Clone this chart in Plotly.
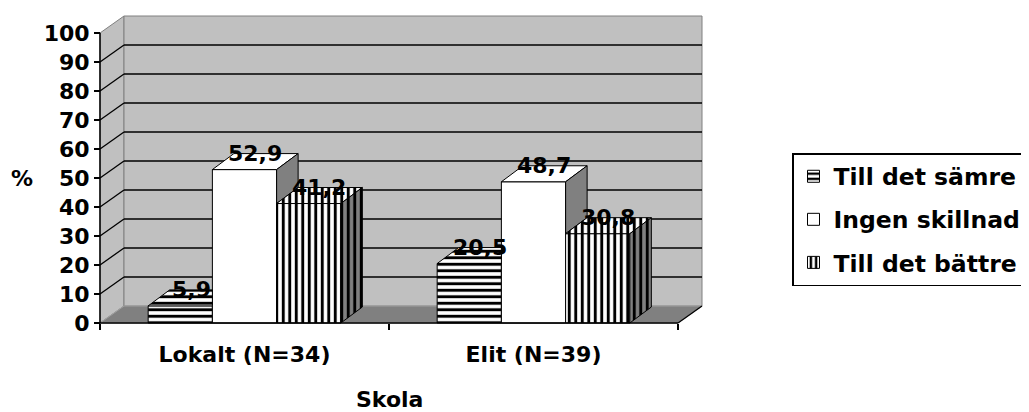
import plotly.graph_objects as go

# ---------------- data ----------------
categories = ["Lokalt (N=34)", "Elit (N=39)"]
series_names = ["Till det sämre", "Ingen skillnad", "Till det bättre"]
till_det_samre = [5.9, 20.5]
ingen_skillnad = [52.9, 48.7]
till_det_battre = [41.2, 30.8]
y_tick_values = [0, 10, 20, 30, 40, 50, 60, 70, 80, 90, 100]
x_title = "Skola"
y_title = "%"

series_values = [till_det_samre, ingen_skillnad, till_det_battre]

# ---------------- geometry / style ----------------
W, H = 1029, 412
OFF = 8               # default page body margin
PX_X = 289.0          # pixels per category unit
PX_Y = 2.9            # pixels per percent
X0_PX, Y0_PX = 100 - OFF, 323 - OFF
plot_left, plot_right = 98 - OFF, 705 - OFF
plot_top, plot_bottom = 14 - OFF, 325 - OFF
pw = plot_right - plot_left
ph = plot_bottom - plot_top

x_range = [(plot_left - X0_PX) / PX_X, (plot_right - X0_PX) / PX_X]
y_range = [(Y0_PX - plot_bottom) / PX_Y, (Y0_PX - plot_top) / PX_Y]

WALL_DX, WALL_DY = 24 / PX_X, 17 / PX_Y
BAR_DX, BAR_DY = 21.5 / PX_X, 16 / PX_Y
BARGAP = 1 / 3
n_cat = len(categories)
n_ser = len(series_names)
bar_w = (1 - BARGAP) / n_ser
ymax = max(y_tick_values)

WALL = "#C0C0C0"
DARK = "#808080"
EDGE = "#A0A0A0"
FONT = dict(family="DejaVu Sans", size=22, color="black", weight="bold")

PAT_SIZE, PAT_SOLID = 6.5, 0.45
front_styles = [
    dict(shape="-", fgcolor="black", bgcolor="white", size=PAT_SIZE, solidity=PAT_SOLID),
    dict(shape="", fgcolor="black", bgcolor="white"),
    dict(shape="|", fgcolor="black", bgcolor="white", size=PAT_SIZE, solidity=PAT_SOLID),
]
side_bg = ["white", DARK, DARK]

fig = go.Figure()

# ---------------- front faces (real bars) ----------------
cat_x = [i + 0.5 for i in range(n_cat)]
for j, name in enumerate(series_names):
    st = front_styles[j]
    pattern = dict(shape=st["shape"], fgcolor=st["fgcolor"], bgcolor=st["bgcolor"], fillmode="replace")
    if st["shape"]:
        pattern.update(size=st["size"], solidity=st["solidity"])
    fig.add_trace(go.Bar(
        name=name, x=cat_x, y=series_values[j],
        width=bar_w, offset=-n_ser * bar_w / 2 + j * bar_w,
        marker=dict(color="white", pattern=pattern, line=dict(color="black", width=1)),
        legendgroup=name, hoverinfo="skip",
    ))


def face(xs, ys, j, bg):
    st = front_styles[j]
    kw = dict(x=xs, y=ys, mode="lines", fill="toself", fillcolor=bg,
              line=dict(color="black", width=1), showlegend=False, hoverinfo="skip")
    if st["shape"]:
        kw["fillpattern"] = dict(shape=st["shape"], fgcolor="black", bgcolor=bg,
                                 size=PAT_SIZE, solidity=PAT_SOLID, fillmode="replace")
    fig.add_trace(go.Scatter(**kw))


# ---------------- top and side faces (3D look), hidden parts removed ----------------
for i in range(n_cat):
    for j in range(n_ser):
        v = series_values[j][i]
        L = i + BARGAP / 2 + j * bar_w
        R = L + bar_w
        nxt = series_values[j + 1][i] if j + 1 < n_ser else None
        # top face
        xs, ys = [L, R], [v, v]
        if nxt is not None and nxt > v:
            if nxt >= v + BAR_DY:
                xs += [R, L + BAR_DX]
                ys += [v + BAR_DY, v + BAR_DY]
            else:
                xr = R + (nxt - v) / BAR_DY * BAR_DX
                xs += [R, xr, R + BAR_DX, L + BAR_DX]
                ys += [nxt, nxt, v + BAR_DY, v + BAR_DY]
        else:
            xs += [R + BAR_DX, L + BAR_DX]
            ys += [v + BAR_DY, v + BAR_DY]
        xs.append(L); ys.append(v)
        face(xs, ys, j, "white")
        # side face
        low = 0 if nxt is None else nxt
        if v > low:
            face([R, R + BAR_DX, R + BAR_DX, R, R],
                 [low, low + BAR_DY, v + BAR_DY, v, low], j, side_bg[j])

# ---------------- walls, floor, gridlines ----------------
shapes = []
shapes.append(dict(type="path", xref="x", yref="y", layer="below",
                   path=f"M 0,0 L {WALL_DX},{WALL_DY} L {WALL_DX},{ymax + WALL_DY} L 0,{ymax} Z",
                   fillcolor=WALL, line=dict(color=DARK, width=1)))
shapes.append(dict(type="rect", xref="x", yref="y", layer="below",
                   x0=WALL_DX, x1=n_cat + WALL_DX, y0=WALL_DY, y1=ymax + WALL_DY,
                   fillcolor=WALL, line=dict(color=DARK, width=1)))
shapes.append(dict(type="path", xref="x", yref="y", layer="below",
                   path=f"M 0,0 L {n_cat},0 L {n_cat + WALL_DX},{WALL_DY} L {WALL_DX},{WALL_DY} Z",
                   fillcolor=DARK, line=dict(color=EDGE, width=1)))
shapes.append(dict(type="line", xref="x", yref="y", layer="below",
                   x0=n_cat, x1=n_cat + WALL_DX, y0=0, y1=WALL_DY,
                   line=dict(color="black", width=1.3)))
for v in y_tick_values[1:-1]:
    shapes.append(dict(type="line", xref="x", yref="y", layer="below",
                       x0=WALL_DX, x1=n_cat + WALL_DX, y0=v + WALL_DY, y1=v + WALL_DY,
                       line=dict(color="black", width=1.3)))
    shapes.append(dict(type="line", xref="x", yref="y", layer="below",
                       x0=0, x1=WALL_DX, y0=v, y1=v + WALL_DY,
                       line=dict(color="black", width=1.3)))
# front axis lines
shapes.append(dict(type="line", xref="x", yref="y", layer="above",
                   x0=0, x1=0, y0=0, y1=ymax, line=dict(color="black", width=1.5)))
shapes.append(dict(type="line", xref="x", yref="y", layer="above",
                   x0=0, x1=n_cat, y0=0, y1=0, line=dict(color="black", width=1.5)))

# ---------------- annotations ----------------
annotations = []
for i in range(n_cat):
    for j in range(n_ser):
        v = series_values[j][i]
        cx = i + BARGAP / 2 + (j + 0.5) * bar_w + BAR_DX / 2
        annotations.append(dict(x=cx, y=v + BAR_DY, xref="x", yref="y",
                                text=f"{v:.1f}".replace(".", ","), showarrow=False,
                                font=FONT, xanchor="center", yanchor="middle"))
annotations.append(dict(x=n_cat / 2, y=(plot_bottom - (399 - OFF)) / ph, xref="x", yref="paper",
                        text=x_title, showarrow=False, font=FONT,
                        xanchor="center", yanchor="middle"))
annotations.append(dict(x=((22 - OFF) - plot_left) / pw, y=(plot_bottom - (178 - OFF)) / ph,
                        xref="paper", yref="paper",
                        text=y_title, showarrow=False, font=FONT,
                        xanchor="center", yanchor="middle"))

fig.update_layout(
    width=W, height=H,
    margin=dict(l=plot_left, r=W - plot_right, t=plot_top, b=H - plot_bottom, autoexpand=False),
    paper_bgcolor="white", plot_bgcolor="rgba(0,0,0,0)",
    barmode="overlay",
    font=FONT,
    showlegend=True,
    legend=dict(x=((792 - OFF) - plot_left) / pw, y=(plot_bottom - (153 - OFF)) / ph,
                xanchor="left", yanchor="top",
                bgcolor="white", bordercolor="black", borderwidth=1.5,
                font=dict(family="DejaVu Sans", size=23.5, color="black", weight="bold"),
                tracegroupgap=9.5, traceorder="grouped"),
    shapes=shapes, annotations=annotations,
    xaxis=dict(range=x_range, anchor="free", position=(plot_bottom - Y0_PX) / ph,
               tickmode="array", tickvals=cat_x, ticktext=categories, ticks="",
               ticklabelstandoff=16,
               minor=dict(tickmode="array", tickvals=list(range(n_cat + 1)), ticks="outside",
                          ticklen=6, tickwidth=1.5, tickcolor="black", showgrid=False),
               showgrid=False, zeroline=False, showline=False, fixedrange=True),
    yaxis=dict(range=y_range, anchor="free", position=(X0_PX - plot_left) / pw,
               tickmode="array", tickvals=y_tick_values, ticks="outside",
               ticklen=6, tickwidth=1.5, tickcolor="black",
               showgrid=False, zeroline=False, showline=False, fixedrange=True),
)

fig.write_html("out.html")
